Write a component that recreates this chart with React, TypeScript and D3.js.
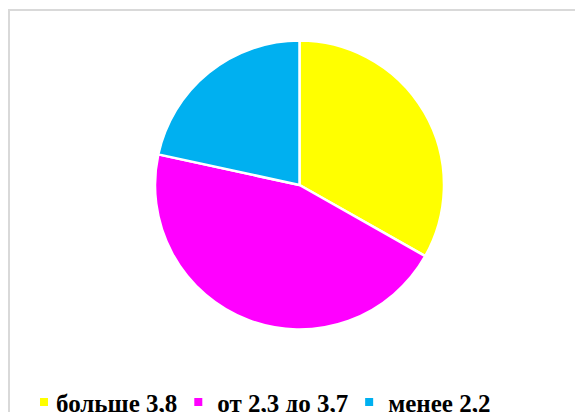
import React, { useEffect, useRef } from "react";
import * as d3 from "d3";

const categories = ["больше 3,8", "от 2,3 до 3,7", "менее 2,2"];
const values = [33.2, 45.2, 21.6];
const colors = ["#FFFF00", "#FF00FF", "#00B0F0"];

const W = 583;
const H = 420;

export default function App() {
  const ref = useRef<SVGSVGElement>(null);

  useEffect(() => {
    const svg = d3.select(ref.current);
    svg.selectAll("*").remove();

    svg
      .append("rect")
      .attr("x", 9)
      .attr("y", 10)
      .attr("width", W + 20)
      .attr("height", H + 20)
      .attr("fill", "#fff")
      .attr("stroke", "#d9d9d9")
      .attr("stroke-width", 2);

    const cx = 299.5;
    const cy = 185;
    const r = 144.5;

    const pie = d3.pie<number>().sort(null).value((d) => d);
    const arc = d3.arc<d3.PieArcDatum<number>>().innerRadius(0).outerRadius(r);

    svg
      .append("g")
      .attr("transform", `translate(${cx},${cy})`)
      .selectAll("path")
      .data(pie(values))
      .join("path")
      .attr("d", arc)
      .attr("fill", (_, i) => colors[i])
      .attr("stroke", "#fff")
      .attr("stroke-width", 2.5)
      .attr("stroke-linejoin", "round");

    const legend = svg.append("g");
    const fontSize = 25;
    const gap = 17;
    const textGaps = [8, 15, 15];
    const ms = 8;
    const items = legend.selectAll("g").data(categories).join("g");
    items
      .append("rect")
      .attr("width", ms)
      .attr("height", ms)
      .attr("fill", (_, i) => colors[i]);
    items
      .append("text")
      .text((d) => d)
      .attr("font-family", "'Liberation Serif', 'Times New Roman', serif")
      .attr("font-weight", "bold")
      .attr("font-size", fontSize)
      .attr("fill", "#000");

    const widths: number[] = [];
    items.selectAll<SVGTextElement, string>("text").each(function () {
      widths.push(this.getComputedTextLength());
    });
    let x = 40;
    const baseline = 412;
    items.each(function (_, i) {
      const g = d3.select(this);
      g.select("rect").attr("x", x).attr("y", baseline - 14);
      g.select("text").attr("x", x + ms + textGaps[i]).attr("y", baseline);
      x += ms + textGaps[i] + widths[i] + gap;
    });
  }, []);

  return (
    <div style={{ margin: -8 }}>
      <svg ref={ref} width={W} height={H} style={{ display: "block" }} />
    </div>
  );
}
